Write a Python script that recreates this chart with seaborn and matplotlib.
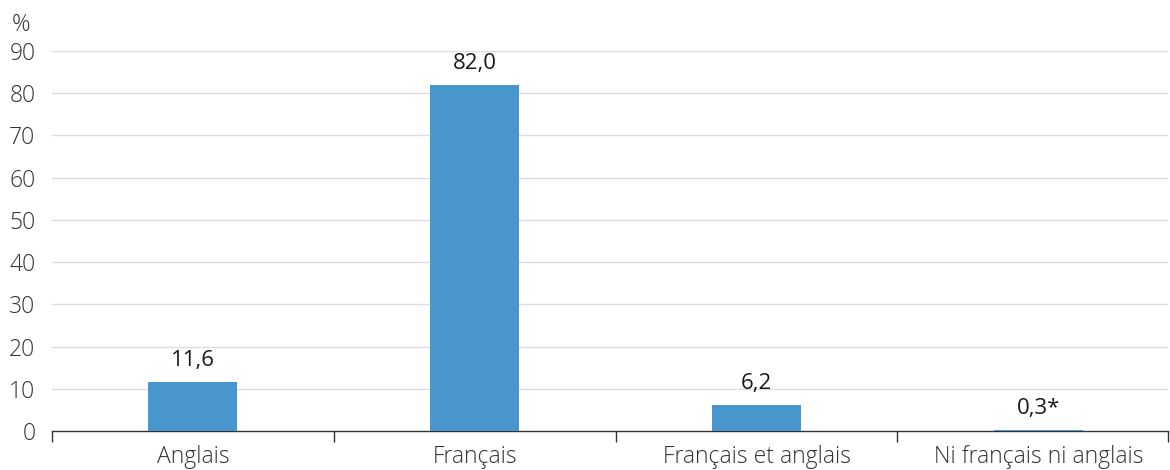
import pandas as pd
import seaborn as sns
import matplotlib.pyplot as plt

categories = ["Anglais", "Français", "Français et anglais", "Ni français ni anglais"]
values = [11.6, 82.0, 6.2, 0.3]
labels = ["11,6", "82,0", "6,2", "0,3*"]

df = pd.DataFrame({"langue": categories, "pct": values})

sns.set_style("white")
plt.rcParams['font.family'] = ['Open Sans', 'DejaVu Sans']
plt.rcParams['font.weight'] = 'light'

fig = plt.figure(figsize=(11.7, 4.7), dpi=100)
ax = fig.add_axes([52 / 1170, 1 - 431 / 470, (1168 - 52) / 1170, (431 - 51) / 470])

sns.barplot(data=df, x="langue", y="pct", color="#4896cd", width=0.316, saturation=1,
            linewidth=0, ax=ax)
ax.bar_label(ax.containers[0], labels=labels, padding=8, fontsize=16, color="#1a1a1a",
             fontweight="normal")

ax.set_xlim(-0.5, 3.46)
ax.set_ylim(0, 90)
ax.set_yticks(range(0, 91, 10))
ax.yaxis.grid(True, color="#dddddd", linewidth=1)
ax.set_axisbelow(True)
ax.set_xlabel("")
ax.set_ylabel("")

for s in ["top", "right", "left"]:
    ax.spines[s].set_visible(False)
ax.spines["bottom"].set_color("#333333")
ax.spines["bottom"].set_linewidth(1)
ax.spines["bottom"].set_zorder(0.5)

ax.tick_params(axis="y", left=False, length=0, labelsize=16.5, labelcolor="#333333", pad=12)
ax.tick_params(axis="x", which="major", bottom=False, length=0, labelsize=16.5,
               labelcolor="#333333", pad=10)
ax.set_xticks([-0.5, 0.5, 1.5, 2.5, 3.46], minor=True)
ax.tick_params(axis="x", which="minor", bottom=True, length=8, width=1, color="#333333",
               direction="out")

fig.text(12 / 1170, 1 - 25 / 470, "%", fontsize=16.5, color="#333333", va="center", ha="left")

fig.savefig("out.png", dpi=100)
